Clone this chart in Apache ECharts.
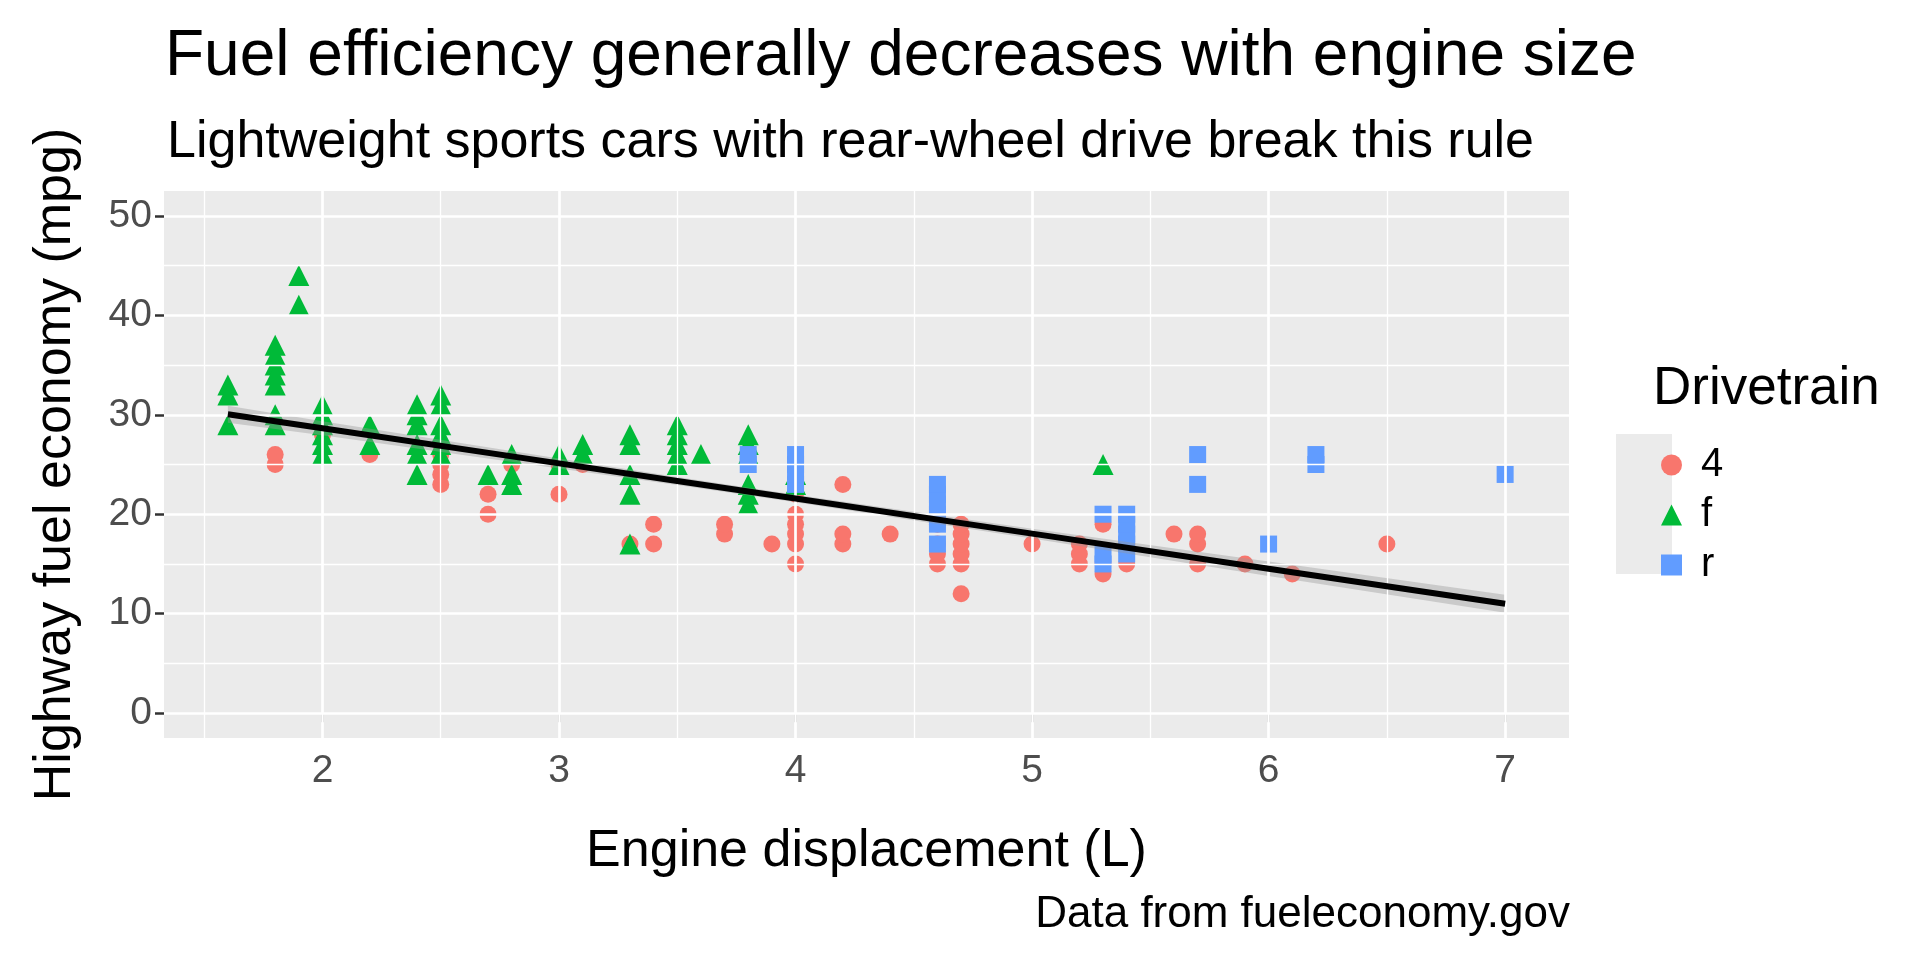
<!DOCTYPE html>
<html><head><meta charset="utf-8">
<script src="https://cdn.jsdelivr.net/npm/echarts@6/dist/echarts.min.js"></script>
<style>html,body{margin:0;padding:0;background:#fff}#c{width:1920px;height:960px}</style>
</head><body><div id="c"></div>
<script>
const pts4 = [[1.8,25],[1.8,26],[2.0,28],[2.2,26],[2.5,23],[2.5,24],[2.5,25],[2.5,26],[2.5,27],[2.7,20],[2.7,22],[2.8,25],[3.0,22],[3.0,25],[3.1,25],[3.3,17],[3.4,17],[3.4,19],[3.7,18],[3.7,19],[3.9,17],[4.0,15],[4.0,17],[4.0,18],[4.0,19],[4.0,20],[4.0,22],[4.2,17],[4.2,18],[4.2,23],[4.4,18],[4.6,15],[4.6,16],[4.6,17],[4.6,19],[4.7,12],[4.7,15],[4.7,16],[4.7,17],[4.7,18],[4.7,19],[5.0,17],[5.2,15],[5.2,16],[5.2,17],[5.3,14],[5.3,15],[5.3,19],[5.4,15],[5.4,17],[5.6,18],[5.7,15],[5.7,17],[5.7,18],[5.9,15],[6.1,14],[6.5,17]];
const ptsF = [[1.6,33],[1.6,29],[1.6,32],[1.8,29],[1.8,30],[1.8,33],[1.8,35],[1.8,36],[1.8,37],[1.8,34],[1.9,44],[1.9,41],[2.0,26],[2.0,28],[2.0,29],[2.0,30],[2.0,31],[2.0,27],[2.2,27],[2.2,29],[2.4,24],[2.4,26],[2.4,27],[2.4,29],[2.4,30],[2.4,31],[2.5,26],[2.5,27],[2.5,28],[2.5,29],[2.5,31],[2.5,32],[2.7,24],[2.8,23],[2.8,24],[2.8,26],[3.0,25],[3.0,26],[3.1,26],[3.1,27],[3.3,17],[3.3,22],[3.3,24],[3.3,27],[3.3,28],[3.5,25],[3.5,26],[3.5,27],[3.5,28],[3.5,29],[3.6,26],[3.8,21],[3.8,22],[3.8,23],[3.8,26],[3.8,27],[3.8,28],[4.0,23],[4.0,24],[5.3,25]];
const ptsR = [[3.8,25],[3.8,26],[4.0,23],[4.0,24],[4.0,25],[4.0,26],[4.6,17],[4.6,19],[4.6,20],[4.6,21],[4.6,22],[4.6,23],[5.3,15],[5.3,16],[5.3,20],[5.4,16],[5.4,17],[5.4,18],[5.4,19],[5.4,20],[5.7,23],[5.7,26],[6.0,17],[6.2,25],[6.2,26],[7.0,24]];
const fitX = [1.6, 2, 3, 3.5, 4, 5, 6, 7];
const fitY = [30.05, 28.64, 25.11, 23.35, 21.58, 18.05, 14.52, 10.99];
const fitLo = [29.2, 27.95, 24.6, 22.95, 21.2, 17.55, 13.8, 10.1];
const fitHi = [30.9, 29.35, 25.6, 23.75, 21.95, 18.55, 15.25, 11.9];
const xTicks = [2, 3, 4, 5, 6, 7];
const yTicks = [0, 10, 20, 30, 40, 50];
const xMinor = [1.5, 2.5, 3.5, 4.5, 5.5, 6.5];
const yMinor = [5, 15, 25, 35, 45];

const chart = echarts.init(document.getElementById('c'));
const F = 'Liberation Sans, Arial, sans-serif';
const major = {lineStyle:{color:'#fff',width:2.7,type:'solid'}};
const minor = {lineStyle:{color:'#fff',width:1.3,type:'solid'}};
const gridLines = [
  ...xMinor.map(v=>({xAxis:v,...minor})), ...yMinor.map(v=>({yAxis:v,...minor})),
  ...xTicks.map(v=>({xAxis:v,...major})), ...yTicks.map(v=>({yAxis:v,...major}))];
chart.setOption({
  animation:false,
  title:[
    {text:'Fuel efficiency generally decreases with engine size',left:160,top:20,textStyle:{fontFamily:F,fontSize:64,fontWeight:'normal',color:'#000'}},
    {text:'Lightweight sports cars with rear-wheel drive break this rule',left:162,top:112,textStyle:{fontFamily:F,fontSize:52,fontWeight:'normal',color:'#000'}},
    {text:'Data from fueleconomy.gov',right:345,top:888,textStyle:{fontFamily:F,fontSize:44,fontWeight:'normal',color:'#000'}},
    {text:'Drivetrain',left:1648,top:358,textStyle:{fontFamily:F,fontSize:53,fontWeight:'normal',color:'#000'}}
  ],
  grid:{left:164,right:351,top:191,bottom:222,show:true,backgroundColor:'#EBEBEB',borderWidth:0},
  xAxis:{type:'value',min:1.33,max:7.27,name:'Engine displacement (L)',nameLocation:'middle',nameGap:88,
    nameTextStyle:{fontFamily:F,fontSize:52,color:'#000'},
    axisLine:{show:false},splitLine:{show:false},
    axisTick:{show:true,customValues:xTicks,length:9,lineStyle:{color:'#333',width:2.5}},
    axisLabel:{customValues:xTicks,fontFamily:F,fontSize:39,color:'#4D4D4D',margin:14}},
  yAxis:{type:'value',min:-2.5,max:52.5,name:'Highway fuel economy (mpg)',nameLocation:'middle',nameGap:82,
    nameTextStyle:{fontFamily:F,fontSize:52,color:'#000'},
    axisLine:{show:false},splitLine:{show:false},
    axisTick:{show:true,customValues:yTicks,length:9,lineStyle:{color:'#333',width:2.5}},
    axisLabel:{customValues:yTicks,fontFamily:F,fontSize:39,color:'#4D4D4D',margin:12}},
  legend:{orient:'vertical',left:1656,top:440,itemGap:10,itemWidth:21,itemHeight:21,
    data:[{name:'4',icon:'circle'},{name:'f',icon:'triangle'},{name:'r',icon:'rect'}],
    textStyle:{fontFamily:F,fontSize:40,color:'#000',padding:[0,0,0,14]}},
  graphic:[{type:'rect',shape:{x:1616,y:434,width:56,height:140},style:{fill:'#EBEBEB'},z:-1}],
  series:[
    {type:'scatter',data:[],silent:true,markLine:{silent:true,symbol:'none',label:{show:false},data:gridLines},z:1},
    {name:'4',type:'scatter',data:pts4,symbol:'circle',symbolSize:17,itemStyle:{color:'#F8766D',opacity:1},z:3},
    {name:'f',type:'scatter',data:ptsF,symbol:'triangle',symbolSize:21,itemStyle:{color:'#00BA38',opacity:1},z:3},
    {name:'r',type:'scatter',data:ptsR,symbol:'rect',symbolSize:17,itemStyle:{color:'#619CFF',opacity:1},z:3},
    {type:'custom',silent:true,z:4,data:[0],
      renderItem:function(params,api){
        const up = fitX.map((x,i)=>api.coord([x,fitHi[i]]));
        const lo = fitX.map((x,i)=>api.coord([x,fitLo[i]])).reverse();
        return {type:'polygon',shape:{points:up.concat(lo)},style:{fill:'rgba(153,153,153,0.4)'}};
      }},
    {type:'line',data:fitX.map((x,i)=>[x,fitY[i]]),symbol:'none',lineStyle:{color:'#000',width:6},z:5,silent:true}
  ]
});
</script></body></html>
